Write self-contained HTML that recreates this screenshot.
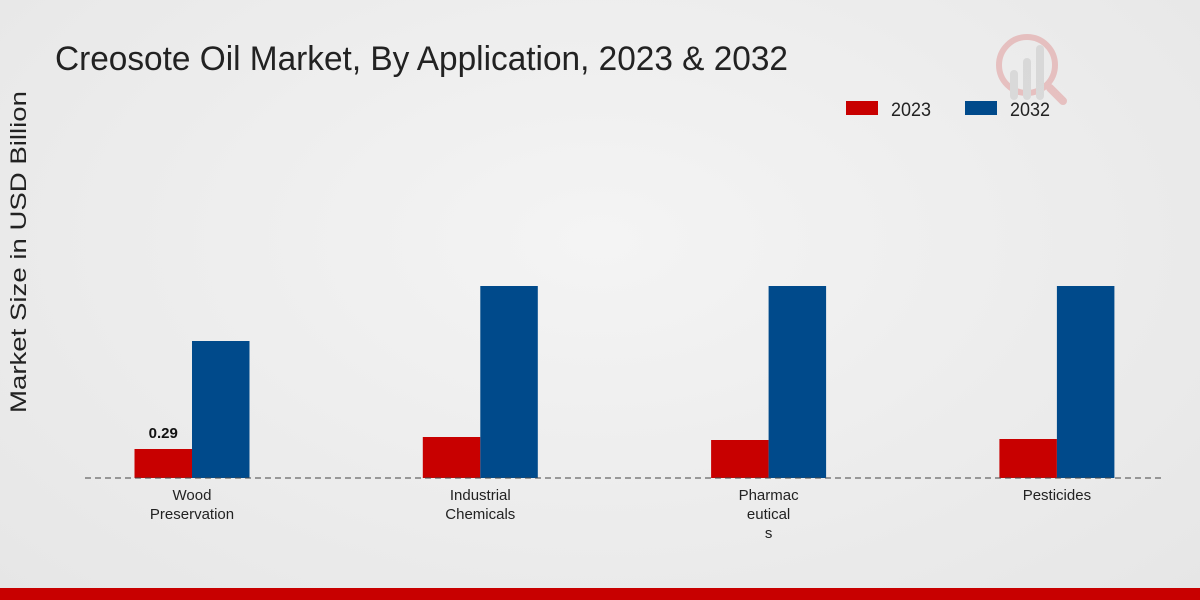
<!DOCTYPE html>
<html><head><meta charset="utf-8"><style>
html,body{margin:0;padding:0}
body{width:1200px;height:600px;overflow:hidden;background:radial-gradient(ellipse at 50% 40%,#f4f4f4 0%,#e6e6e6 100%);font-family:"Liberation Sans",sans-serif}
</style></head><body>
<svg id="chart" width="1200" height="600" xmlns="http://www.w3.org/2000/svg" style="position:absolute;left:0;top:0">
<text x="55" y="70" font-size="34" fill="#222" textLength="733" lengthAdjust="spacingAndGlyphs">Creosote Oil Market, By Application, 2023 &amp; 2032</text>
<text transform="translate(26,252) rotate(-90)" text-anchor="middle" font-size="22" fill="#222" textLength="322" lengthAdjust="spacingAndGlyphs">Market Size in USD Billion</text>
<g opacity="0.18">
<circle cx="1027" cy="65" r="28" fill="none" stroke="#c00" stroke-width="6"/>
<rect x="1010" y="70" width="8" height="30" rx="4" fill="#888"/>
<rect x="1023" y="58" width="8" height="42" rx="4" fill="#888"/>
<rect x="1036" y="45" width="8" height="55" rx="4" fill="#888"/>
<line x1="1050" y1="88" x2="1063" y2="101" stroke="#c00" stroke-width="8" stroke-linecap="round"/>
</g>
<g>
<rect x="846" y="101" width="32" height="14" fill="#c80000"/>
<text x="891" y="116" font-size="19" fill="#222" textLength="40" lengthAdjust="spacingAndGlyphs">2023</text>
<rect x="965" y="101" width="32" height="14" fill="#004a8b"/>
<text x="1010" y="116" font-size="19" fill="#222" textLength="40" lengthAdjust="spacingAndGlyphs">2032</text>
</g>
<g id="bars"></g>
<line x1="85" y1="478" x2="1165" y2="478" stroke="#444" stroke-width="1" stroke-dasharray="6,4"/>
<g id="labels"></g>
<rect x="0" y="588" width="1200" height="12" fill="#c80000"/>
</svg>
<script>
const categories=[["Wood","Preservation"],["Industrial","Chemicals"],["Pharmac","eutical","s"],["Pesticides"]];
const values2023=[0.29,0.41,0.38,0.39];
const values2032=[1.37,1.92,1.92,1.92];
const valueLabels=["0.29",null,null,null];
const NS="http://www.w3.org/2000/svg";
const baseY=478, pxPerUnit=100, x0=192, step=288.3, bw=57.5;
const y=v=>baseY-v*pxPerUnit;
const xc=i=>x0+i*step;
const bars=document.getElementById('bars'), labels=document.getElementById('labels');
function mk(t,a){const e=document.createElementNS(NS,t);for(const k in a)e.setAttribute(k,a[k]);return e;}
categories.forEach((c,i)=>{
  const r=mk('rect',{x:xc(i)-bw,y:y(values2023[i]),width:bw,height:values2023[i]*pxPerUnit,fill:'#c80000'});
  
  
  bars.appendChild(r);
  const b=mk('rect',{x:xc(i),y:y(values2032[i]),width:bw,height:values2032[i]*pxPerUnit,fill:'#004a8b'});
  
  
  bars.appendChild(b);
  if(valueLabels[i]){
    const t=mk('text',{x:xc(i)-bw/2,y:y(values2023[i])-11,'text-anchor':'middle','font-size':15,'font-weight':'bold',fill:'#111'});
    t.textContent=valueLabels[i];
    
    
    bars.appendChild(t);
  }
  c.forEach((line,j)=>{
    const t=mk('text',{x:xc(i),y:500+j*19,'text-anchor':'middle','font-size':15,fill:'#222'});
    t.textContent=line;
    
    
    labels.appendChild(t);
  });
});
</script>
</body></html>
